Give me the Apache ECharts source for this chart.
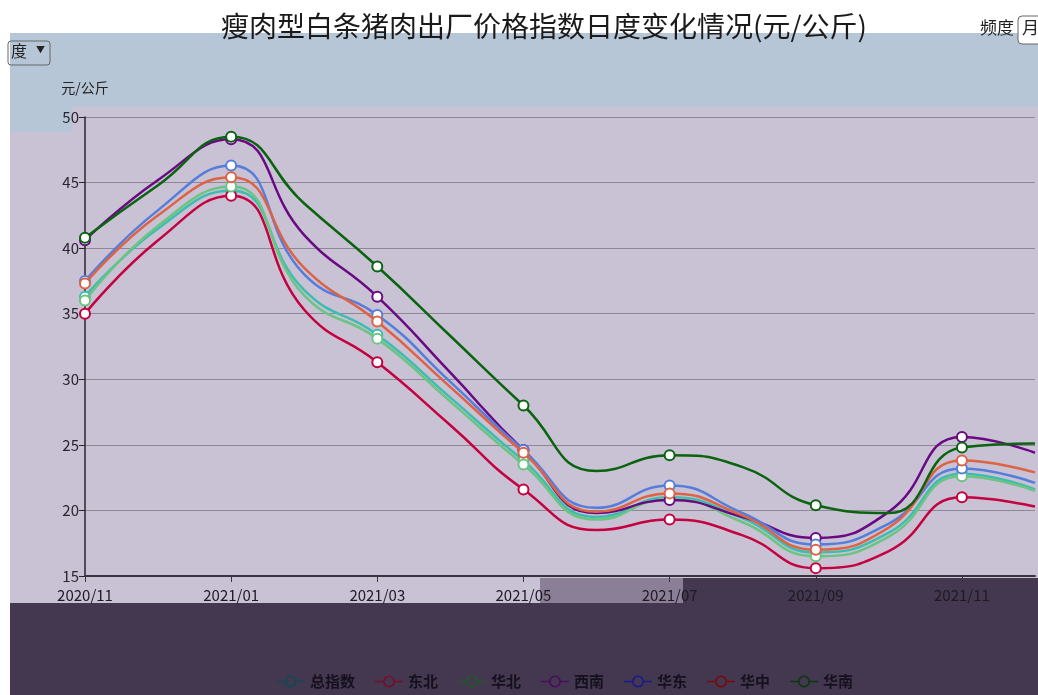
<!DOCTYPE html>
<html lang="zh">
<head>
    <meta charset="UTF-8">
    <title>瘦肉型白条猪肉出厂价格指数</title>
    <script src="https://cdn.jsdelivr.net/npm/echarts@6/dist/echarts.min.js"></script>
</head>
<body style="margin:0;background:#fff;">
<div id="box" style="width: 1038px;height: 695px;"></div>
<script>
    var months = ['2020/11','2020/12','2021/01','2021/02','2021/03','2021/04','2021/05',
                  '2021/06','2021/07','2021/08','2021/09','2021/10','2021/11','2021/12'];
    var names = ['总指数','东北','华北','西南','华东','华中','华南'];
    var zong    = [36.3, 41.5, 44.4, 36.8, 33.4, 28.6, 23.8, 19.5, 21.0, 19.4, 16.8, 18.3, 22.8, 21.6];
    var dongbei = [35.0, 40.6, 44.0, 35.3, 31.3, 26.5, 21.6, 18.5, 19.3, 18.1, 15.6, 16.9, 21.0, 20.3];
    var huabei  = [36.0, 41.7, 44.7, 36.4, 33.1, 28.3, 23.5, 19.3, 20.9, 19.1, 16.5, 18.0, 22.6, 21.5];
    var xinan   = [40.6, 45.2, 48.3, 41.0, 36.3, 30.5, 24.6, 19.8, 20.8, 19.5, 17.9, 19.9, 25.6, 24.4];
    var huadong = [37.5, 42.9, 46.3, 38.0, 34.9, 29.8, 24.6, 20.2, 21.9, 19.8, 17.4, 19.0, 23.2, 22.1];
    var huazhong= [37.3, 42.5, 45.4, 38.5, 34.4, 29.4, 24.4, 19.9, 21.3, 19.6, 17.0, 18.7, 23.8, 22.9];
    var huanan  = [40.8, 44.8, 48.5, 43.4, 38.6, 33.3, 28.0, 23.0, 24.2, 23.3, 20.4, 19.8, 24.8, 25.1];
    var colors = ['#3dbdb0','#c4003e','#6cc482','#6a0a82','#557ddc','#de6244','#0a640f'];
    var legendColors = ['#0e4a55','#7a0b2a','#1e5a2a','#4a0a60','#1a1a8a','#7a0a0a','#0a3a0a'];
    var allData = [zong, dongbei, huabei, xinan, huadong, huazhong, huanan];

    var myChart = echarts.init(document.getElementById('box'));
    var font = '"Noto Sans CJK SC", sans-serif';
    // line stub + hollow ring, so the legend ring shows the dark background inside
    var ringIcon = 'path://M0 6.2H8.2V7.8H0Z M19.8 6.2H28V7.8H19.8Z ' +
        'M8 7A6 6 0 1 1 20 7A6 6 0 1 1 8 7Z M9.6 7A4.4 4.4 0 1 0 18.4 7A4.4 4.4 0 1 0 9.6 7Z';

    var series = [];
    for (var k = 0; k < names.length; k++) {
        series.push({
            name: names[k],
            type: 'line',
            smooth: true,
            symbol: 'emptyCircle',
            symbolSize: 10,
            showAllSymbol: true,
            z: 3 + k,
            lineStyle: {width: 2.5, color: colors[k]},
            itemStyle: {color: colors[k], borderWidth: 1.5},
            data: allData[k].map(function (v, i) {
                return i % 2 ? {value: v, symbol: 'none'} : v;
            })
        });
    }
    var legendData = names.map(function (n, i) {
        return {name: n, icon: ringIcon, itemStyle: {color: legendColors[i], borderWidth: 0}};
    });

    var option = {
        backgroundColor: '#ffffff',
        animation: false,
        textStyle: {fontFamily: font},
        graphic: [
            {type: 'rect', z: -10, shape: {x: 10, y: 33, width: 1028, height: 75}, style: {fill: '#b6c6d7'}},
            {type: 'rect', z: -10, shape: {x: 10, y: 107, width: 62, height: 25}, style: {fill: '#b6c6d7'}},
            {type: 'rect', z: -10, shape: {x: 72, y: 107, width: 966, height: 496}, style: {fill: '#c9c2d5'}},
            {type: 'rect', z: -10, shape: {x: 10, y: 132, width: 62, height: 471}, style: {fill: '#c9c2d5'}},
            {type: 'rect', z: -9, shape: {x: 540, y: 578, width: 143, height: 25}, style: {fill: '#8b7e97'}},
            {type: 'rect', z: -9, shape: {x: 683, y: 578, width: 355, height: 25}, style: {fill: '#433850'}},
            {type: 'rect', z: -10, shape: {x: 10, y: 603, width: 1028, height: 92}, style: {fill: '#433850'}},
            {type: 'rect', z: 10, shape: {x: 8, y: 41, width: 42, height: 24, r: 3},
             style: {fill: 'transparent', stroke: '#666', lineWidth: 1}},
            {type: 'text', z: 11, left: 11, top: 43, style: {text: '度', font: '16px ' + font, fill: '#222'}},
            {type: 'text', z: 11, left: 36, top: 45, style: {text: '▼', font: '9px ' + font, fill: '#222'}},
            {type: 'text', z: 11, left: 980, top: 19, style: {text: '频度', font: '17px ' + font, fill: '#222'}},
            {type: 'rect', z: 10, shape: {x: 1018, y: 16, width: 30, height: 28, r: 4},
             style: {fill: '#fff', stroke: '#666', lineWidth: 1}},
            {type: 'text', z: 11, left: 1022, top: 19, style: {text: '月', font: '17px ' + font, fill: '#222'}}
        ],
        title: {
            text: '瘦肉型白条猪肉出厂价格指数日度变化情况(元/公斤)',
            left: 539,
            top: 7,
            textAlign: 'center',
            textStyle: {fontSize: 28, fontWeight: 'normal', color: '#1a1a1a', fontFamily: font}
        },
        legend: {
            data: legendData,
            bottom: 1,
            left: 272,
            itemWidth: 28,
            itemHeight: 14,
            itemGap: 20,
            textStyle: {fontSize: 15, color: '#15101d', fontFamily: font, fontWeight: 'bold'}
        },
        grid: {left: 85, right: 3, top: 117, bottom: 119, containLabel: false},
        xAxis: {
            type: 'category',
            data: months,
            boundaryGap: false,
            axisLine: {lineStyle: {color: '#3a3440', width: 2}},
            axisTick: {interval: 1, length: 6, lineStyle: {color: '#3a3440'}},
            axisLabel: {interval: 1, fontSize: 15, color: '#1e1a24', margin: 12, fontFamily: font},
            splitLine: {show: false}
        },
        yAxis: {
            type: 'value',
            name: '元/公斤',
            nameLocation: 'end',
            nameGap: 22,
            nameTextStyle: {fontSize: 14, color: '#222', align: 'center'},
            min: 15,
            max: 50,
            interval: 5,
            axisLine: {show: true, lineStyle: {color: '#2a2530', width: 1.5}},
            axisTick: {show: true, length: 6, lineStyle: {color: '#2a2530'}},
            axisLabel: {fontSize: 15, color: '#2a2530', margin: 6, fontFamily: font},
            splitLine: {lineStyle: {color: '#8d8796', width: 1}}
        },
        series: series
    };
    myChart.setOption(option);
</script>
</body>
</html>
